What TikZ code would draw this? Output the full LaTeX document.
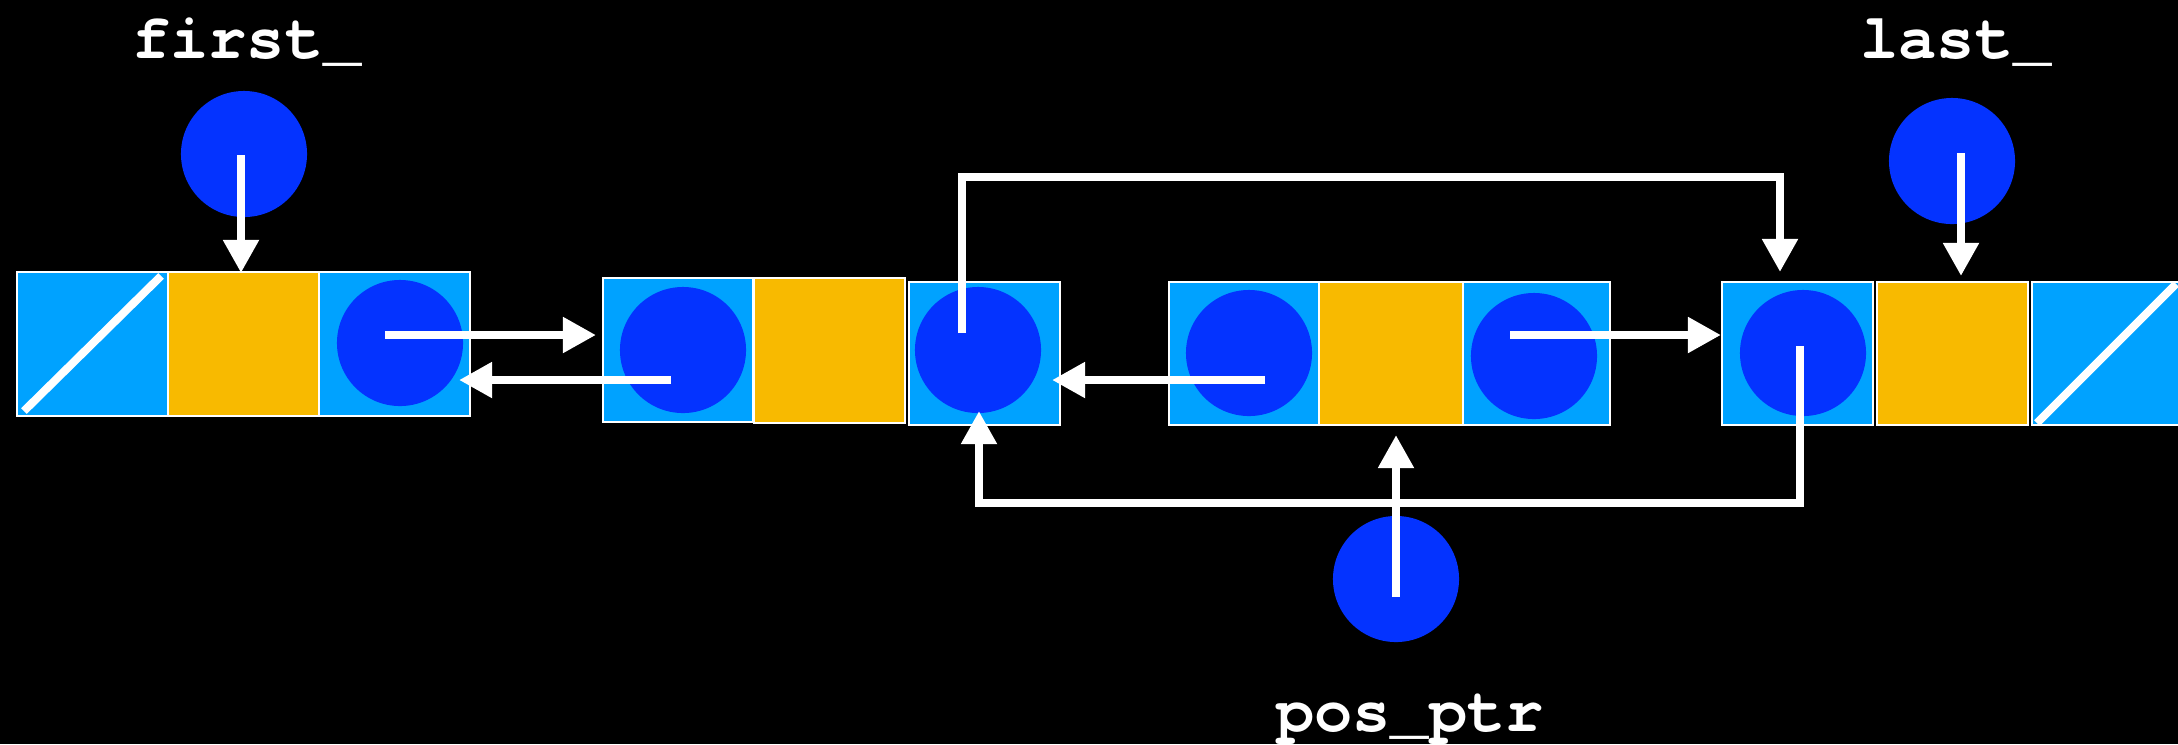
\documentclass[tikz,border=0pt]{standalone}
\usepackage{fontspec}
\setmonofont[Ligatures=NoCommon]{TeX Gyre Cursor}
\usetikzlibrary{arrows.meta}
\definecolor{celeste}{HTML}{00A2FF}
\definecolor{arancio}{HTML}{F8BA00}
\definecolor{blu}{HTML}{0433FF}
\tikzset{
  cella/.style={draw=white, line width=0.02cm, inner sep=0, fill=celeste,
    minimum width=1.51cm, minimum height=1.43cm},
  dato/.style={cella, fill=arancio},
  ptr/.style={circle, fill=blu, inner sep=0, minimum size=1.26cm},
  barra/.style={draw=white, line width=0.08cm},
  freccia/.style={barra, -{Triangle[width=0.34cm,length=0.33cm]}},
  etichetta/.style={text=white, inner sep=0, anchor=base,
    font=\fontsize{18.1}{21}\selectfont\ttfamily\bfseries}
}
\begin{document}
\begin{tikzpicture}[x=0.01cm, y=-0.01cm]
  \fill[black] (0,0) rectangle (2178,744);
  \useasboundingbox (0,0) rectangle (2178,744);

  % primo nodo
  \node[cella, minimum height=1.44cm] (n1a) at (92.5,344) {};
  \node[dato, minimum height=1.44cm] (n1b) at (243.5,344) {};
  \node[cella, minimum height=1.44cm] (n1c) at (394.5,344) {};
  \draw[barra] ([shift={(8,-6)}]n1a.south west) -- ([shift={(-8,5)}]n1a.north east);

  % secondo nodo
  \node[cella, minimum width=1.50cm, minimum height=1.44cm] (n2a) at (678,350) {};
  \node[dato, minimum height=1.45cm] (n2b) at (829.5,350.5) {};
  \node[cella] (n2c) at (984.5,353.5) {};

  % terzo nodo
  \node[cella, minimum width=1.50cm] (n3a) at (1244,353.5) {};
  \node[dato, minimum width=1.44cm] (n3b) at (1391,353.5) {};
  \node[cella, minimum width=1.47cm] (n3c) at (1536.5,353.5) {};

  % ultimo nodo
  \node[cella] (n4a) at (1797.5,353.5) {};
  \node[dato] (n4b) at (1952.5,353.5) {};
  \node[cella] (n4c) at (2107.5,353.5) {};
  \draw[barra] ([shift={(6,-3)}]n4c.south west) -- ([shift={(-8,3)}]n4c.north east);

  % puntatori
  \node[ptr] (pfirst) at (244,154) {};
  \node[ptr] (plast) at (1952,161) {};
  \node[ptr] (ppos) at (1396,579) {};
  \node[ptr] (p1) at (400,343) {};
  \node[ptr] (p2) at (683,350) {};
  \node[ptr] (p3) at (978,350) {};
  \node[ptr] (p4) at (1249,353) {};
  \node[ptr] (p5) at (1534,356) {};
  \node[ptr] (p6) at (1803,353) {};

  % collegamenti
  \draw[freccia] ([shift={(-3,1)}]pfirst.center) -- ([shift={(-2.5,2)}]n1b.north);
  \draw[freccia] ([shift={(9,-8)}]plast.center) -- ([shift={(8.5,-5)}]n4b.north);
  \draw[freccia] ([shift={(-15,-8)}]p1.center) -- ([shift={(-6,-15)}]n2a.west);
  \draw[freccia] ([shift={(-12,30)}]p2.center) -- ([shift={(-12,36)}]n1c.east);
  \draw[freccia] ([shift={(16,27)}]p4.center) -- ([shift={(-9,26.5)}]n2c.east);
  \draw[freccia] ([shift={(-24,-21)}]p5.center) -- ([shift={(0,-18.5)}]n4a.west);
  \draw[freccia] ([shift={(-16,-17)}]p3.center) -- ++(0,-156)
    -| ([shift={(-17.5,-9)}]n4a.north);
  \draw[freccia] ([shift={(-3,-7)}]p6.center) -- ++(0,157)
    -| ([shift={(-5.5,-15)}]n2c.south);
  \draw[freccia] ([shift={(0,18)}]ppos.center) -- ([shift={(5,9)}]n3b.south);

  % etichette
  \node[etichetta] (lfirst) at (247,58) {first\_};
  \node[etichetta] (llast) at (1956,58) {last\_};
  \node[etichetta] (lpos) at (1410,731) {pos\_ptr};
\end{tikzpicture}
\end{document}
